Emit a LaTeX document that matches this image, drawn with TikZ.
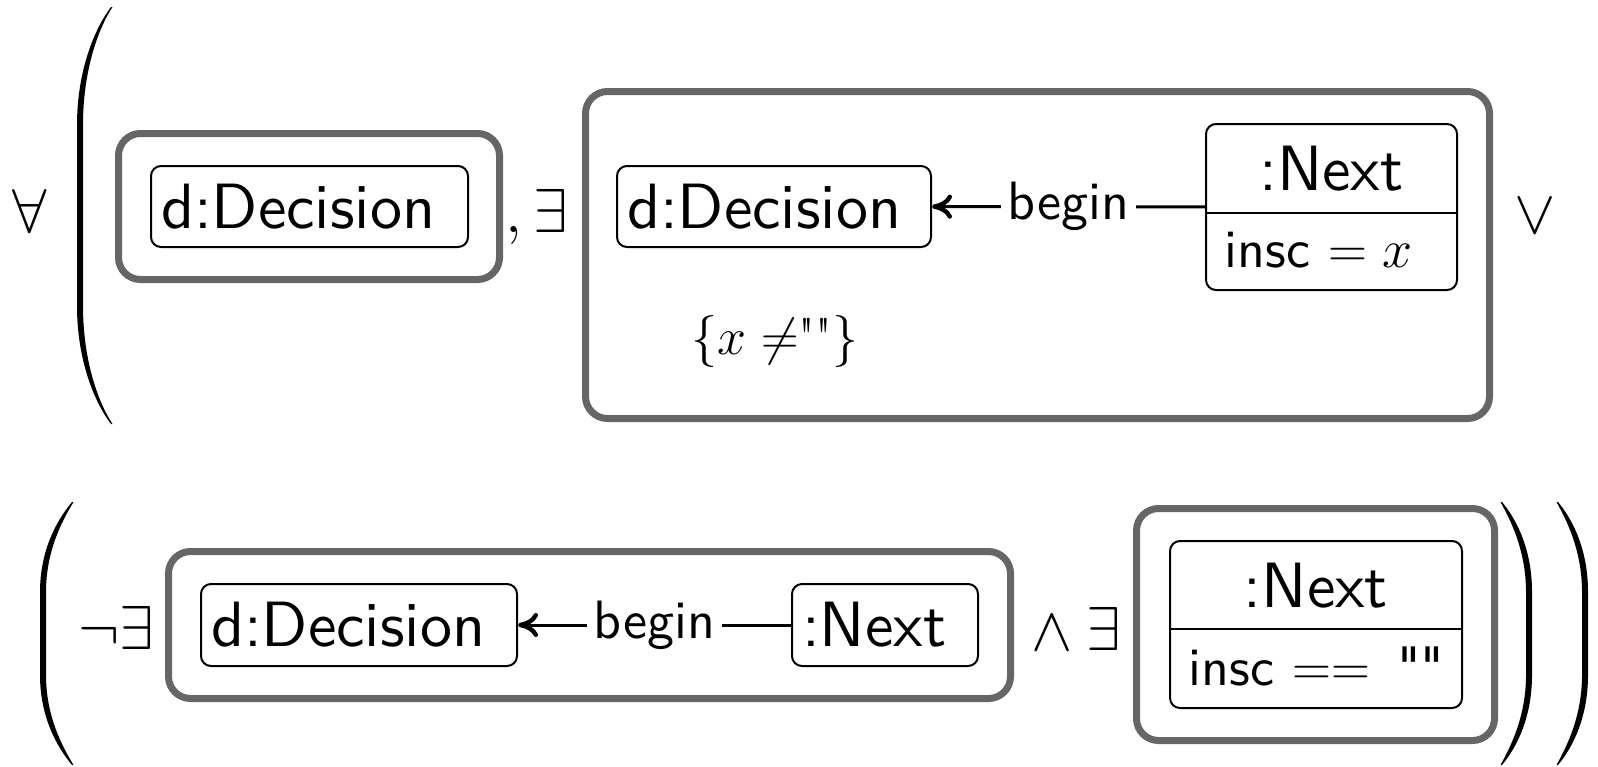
\documentclass[tikz,border=0pt]{standalone}
\usepackage{fix-cm}
\usepackage{fontspec}
\newfontfamily\umlsf{lmsans10-regular.otf}
\usetikzlibrary{arrows.meta}
\definecolor{framegray}{RGB}{102,102,102}
\newcommand{\fsz}[1]{\fontsize{#1}{#1}\selectfont}
\newcommand{\dq}{\textquotedbl}

\begin{document}
\begin{tikzpicture}[x=0.5pt, y=-0.5pt,
  quant/.style={inner sep=0pt, anchor=base, font=\fsz{31}},
  condbox/.style={draw=framegray, line width=3.5pt, rounded corners=11pt, inner sep=0pt},
  objbox/.style={draw=black, line width=1pt, rounded corners=5pt, inner xsep=5pt,
    inner ysep=0pt, align=left, font=\umlsf\fsz{32}},
  objframe/.style={draw=black, line width=1pt, rounded corners=5pt, inner sep=0pt},
  objtitle/.style={inner sep=0pt, anchor=base, font=\umlsf\fsz{32}},
  attr/.style={inner sep=0pt, anchor=base west, font=\umlsf\fsz{27}},
  divider/.style={draw=black, line width=1pt},
  navarrow/.style={line width=1.5pt, {To[length=10pt,width=12pt,line width=2.2pt]}-},
  rolelabel/.style={fill=white, inner xsep=3.5pt, inner ysep=0pt, font=\umlsf\fsz{27}},
  constraint/.style={inner sep=0pt, anchor=base, font=\fsz{26}}
]
\useasboundingbox (0,0) rectangle (1598,766);

% ---------- first line ----------
\node[quant] (forall) at (30,232) {$\forall$};

% big opening parenthesis
\fill (111,7) .. controls (95,28) and (77,70) .. (77,125) -- (77,306)
  .. controls (77,361) and (95,403) .. (111,424) -- (112.5,424)
  .. controls (98,402) and (83,360) .. (83,306) -- (83,125)
  .. controls (83,71) and (98,29) .. (112.5,7) -- cycle;

% premise: any decision
\node[condbox, minimum width=190.5pt, minimum height=73pt] (g1) at (309,206.5) {};
\node[objbox, text width=148.5pt, minimum height=40.5pt] (d1) at (309.5,206.5) {d:Decision};

\node[quant] (comma) at (514,232) {$,$};
\node[quant] (ex1) at (551,232) {$\exists$};

% conclusion: decision with a Next that has an inscription
\node[condbox, minimum width=452pt, minimum height=163.5pt] (g2) at (1037.5,255) {};
\node[objbox, text width=147pt, minimum height=40.5pt] (d2) at (774,206.5) {d:Decision};
\node[objframe, minimum width=125.5pt, minimum height=83pt] (n1) at (1331.5,207) {};
\coordinate (n1split) at (1331.5,213);
\draw[divider] (n1.west |- n1split) -- (n1.east |- n1split);
\node[objtitle] (n1title) at (1331.5,190) {:Next};
\node[attr] (n1attr) at (1224.5,267) {insc $= x$};
\draw[navarrow] (d2) -- node[rolelabel] {begin} (n1);
\node[constraint] (cons) at (775,354) {$\{x \neq$\dq\dq$\}$};

\node[quant] (vee) at (1535,233) {$\vee$};

% ---------- second line ----------
% opening parenthesis
\fill (72,502) .. controls (57,520) and (40,550) .. (40,592) -- (40,675)
  .. controls (40,717) and (57,747) .. (72,765) -- (73.5,765)
  .. controls (62,746) and (46,716) .. (46,675) -- (46,592)
  .. controls (46,551) and (62,521) .. (73.5,502) -- cycle;

\node[quant] (negex) at (116,649) {$\neg\exists$};

\node[condbox, minimum width=421pt, minimum height=73.5pt] (g3) at (589.5,625) {};
\node[objbox, text width=148pt, minimum height=41pt] (d3) at (359,625) {d:Decision};
\node[objbox, text width=83pt, minimum height=41pt] (n2) at (885,625) {:Next};
\draw[navarrow] (d3) -- node[rolelabel] {begin} (n2);

\node[quant] (wedge) at (1052,650) {$\wedge$};
\node[quant] (ex2) at (1104,650) {$\exists$};

\node[condbox, minimum width=179pt, minimum height=116pt] (g4) at (1315.5,624.5) {};
\node[objframe, minimum width=146pt, minimum height=83.5pt] (n3) at (1316,624.5) {};
\coordinate (n3split) at (1316,629);
\draw[divider] (n3.west |- n3split) -- (n3.east |- n3split);
\node[objtitle] (n3title) at (1316,607) {:Next};
\node[attr] (n3attr) at (1188.5,685) {insc $==$\ \,\dq\dq};

% closing parentheses
\fill (1502,502) .. controls (1517,520) and (1532,550) .. (1532,592) -- (1532,675)
  .. controls (1532,717) and (1517,747) .. (1502,765) -- (1500.5,765)
  .. controls (1511,746) and (1526,716) .. (1526,675) -- (1526,592)
  .. controls (1526,551) and (1511,521) .. (1500.5,502) -- cycle;
\fill (1558,502) .. controls (1573,520) and (1588,550) .. (1588,592) -- (1588,675)
  .. controls (1588,717) and (1573,747) .. (1558,765) -- (1556.5,765)
  .. controls (1567,746) and (1582,716) .. (1582,675) -- (1582,592)
  .. controls (1582,551) and (1567,521) .. (1556.5,502) -- cycle;
\end{tikzpicture}
\end{document}
